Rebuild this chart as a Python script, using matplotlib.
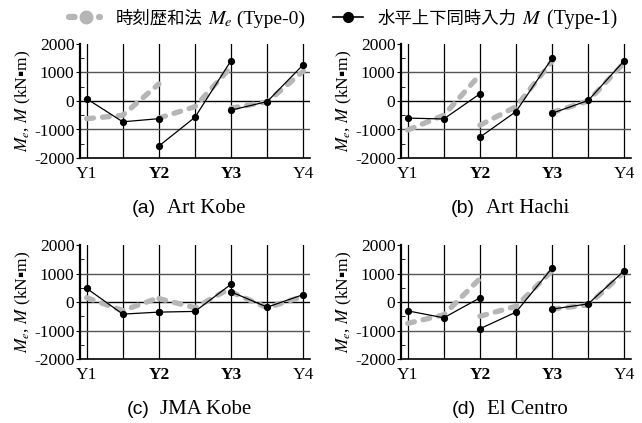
import matplotlib
matplotlib.use("Agg")
import matplotlib.pyplot as plt
from matplotlib.lines import Line2D

plt.rcParams["mathtext.fontset"] = "stix"
plt.rcParams["font.sans-serif"] = ["Liberation Sans", "DejaVu Sans"]

# positions along the frame: Y1 .. Y4 with mid-span points
SEG_X = [[0, 0.5, 1], [1, 1.5, 2], [2, 2.5, 3]]
XTICK_POS = [0, 1, 2, 3]
XTICK_LABELS = ["Y1", "Y2", "Y3", "Y4"]
YTICKS = [-2000, -1000, 0, 1000, 2000]

# (a) Art Kobe
a_type0 = [[-620, -500, 600], [-600, -200, 1200], [-250, -30, 1050]]
a_type1 = [[80, -730, -620], [-1580, -570, 1420], [-320, -20, 1280]]
# (b) Art Hachi
b_type0 = [[-1020, -500, 920], [-850, -200, 1400], [-400, 0, 1350]]
b_type1 = [[-600, -630, 250], [-1270, -370, 1500], [-430, 20, 1420]]
# (c) JMA Kobe
c_type0 = [[150, -300, 150], [120, -200, 500], [350, -200, 200]]
c_type1 = [[480, -425, -355], [-355, -330, 625], [355, -180, 260]]
# (d) El Centro
d_type0 = [[-750, -450, 820], [-500, -150, 1100], [-250, -100, 1050]]
d_type1 = [[-310, -555, 145], [-940, -355, 1195], [-250, -65, 1100]]

PANELS = [
    ("(a)", "Art Kobe", a_type0, a_type1),
    ("(b)", "Art Hachi", b_type0, b_type1),
    ("(c)", "JMA Kobe", c_type0, c_type1),
    ("(d)", "El Centro", d_type0, d_type1),
]

GREY = "#b6b6b6"
SERIF = ["Liberation Serif", "DejaVu Serif"]
JP = ["Noto Sans CJK JP", "DejaVu Sans"]
DASH = (0, (1.3, 1.7))

W, H = 642, 423
fig = plt.figure(figsize=(W / 100, H / 100), dpi=100)
renderer = fig.canvas.get_renderer()

boxes = [(80, 44), (401, 44), (80, 245), (401, 245)]
aw, ah = 230, 114

for (tag, name, t0, t1), (lx, ty) in zip(PANELS, boxes):
    ax = fig.add_axes([lx / W, 1 - (ty + ah) / H, aw / W, ah / H])
    for xs, ys in zip(SEG_X, t0):
        ax.plot(xs, ys, color=GREY, lw=3.8, ls=DASH,
                dash_capstyle="round", zorder=3)
    for xs, ys in zip(SEG_X, t1):
        ax.plot(xs, ys, color="black", lw=0.9, marker="o", ms=4.2, zorder=4)
    ax.set_xlim(-0.092, 3.092)
    ax.set_ylim(-2000, 2000)
    for xv in [0, 0.5, 1, 1.5, 2, 2.5, 3]:
        ax.axvline(xv, color="black", lw=0.9, zorder=1)
    for yv in [-1000, 1000]:
        ax.axhline(yv, color="#555555", lw=1.0, zorder=1)
    ax.axhline(0, color="black", lw=1.0, zorder=1)
    ax.set_xticks(XTICK_POS)
    ax.set_xticklabels(XTICK_LABELS)
    for lab, w in zip(ax.get_xticklabels(), ["normal", "bold", "bold", "normal"]):
        lab.set_fontweight(w)
        lab.set_family(SERIF)
        lab.set_fontsize(12.5)
    ax.set_yticks(YTICKS)
    ax.set_yticklabels([str(v) for v in YTICKS], family=SERIF, fontsize=12.5)
    ax.set_yticks([-1500, -500, 500, 1500], minor=True)
    ax.tick_params(axis="x", length=0, pad=6)
    ax.tick_params(axis="y", which="major", length=3, direction="out", pad=1)
    ax.tick_params(axis="y", which="minor", length=3, direction="in")
    ax.spines["left"].set_linewidth(1.6)
    ax.spines["bottom"].set_linewidth(1.2)
    ax.spines["top"].set_visible(False)
    ax.spines["right"].set_visible(False)
    ax.set_ylabel(r"$M_e$, $M$ (kN" + "\u25aa" + "m)", family=["Liberation Serif", "DejaVu Sans"],
                  fontsize=12.5, labelpad=1)

    # caption: "(x)" in sans, name in serif, centred under the panel
    cy = 1 - (ty + ah + 50) / H
    t_tag = fig.text(0, cy, tag, family="sans-serif", fontsize=14, ha="left", va="center")
    t_nam = fig.text(0, cy, name, family=SERIF, fontsize=15, ha="left", va="center")
    w_tag = t_tag.get_window_extent(renderer).width
    w_nam = t_nam.get_window_extent(renderer).width
    gap = 11
    x0 = lx + 109 - (w_tag + gap + w_nam) / 2
    t_tag.set_x(x0 / W)
    t_nam.set_x((x0 + w_tag + gap) / W)

# legend drawn by hand on the figure (pixel positions)
def px(x, y):
    return x / W, 1 - y / H

LY = 17
fig.add_artist(Line2D([px(69, 0)[0], px(100, 0)[0]], [px(0, LY)[1]] * 2, color=GREY, lw=4.5,
                      ls=(0, (0.9, 1.5)), dash_capstyle="round"))
fig.add_artist(Line2D([px(86, 0)[0]], [px(0, LY)[1]], color=GREY, marker="o", ms=9, lw=0))
fig.add_artist(Line2D([px(333, 0)[0], px(363, 0)[0]], [px(0, LY)[1]] * 2, color="black", lw=1.2))
fig.add_artist(Line2D([px(348, 0)[0]], [px(0, LY)[1]], color="black", marker="o", ms=7, lw=0))


def put_row(x0, pieces):
    x = x0
    for s, fam, size in pieces:
        t = fig.text(x / W, 1 - LY / H, s, family=fam, fontsize=size, ha="left", va="center_baseline")
        bb = t.get_window_extent(renderer)
        x = bb.x1


put_row(116, [("時刻歴和法", JP, 12.5), (" $M_e$", SERIF, 14.5), (" (Type-0)", SERIF, 14)])
put_row(378, [("水平上下同時入力", JP, 12.5), (" $M$", SERIF, 14.5), (" (Type-1)", SERIF, 14.5)])

fig.savefig("out.png", dpi=100)
